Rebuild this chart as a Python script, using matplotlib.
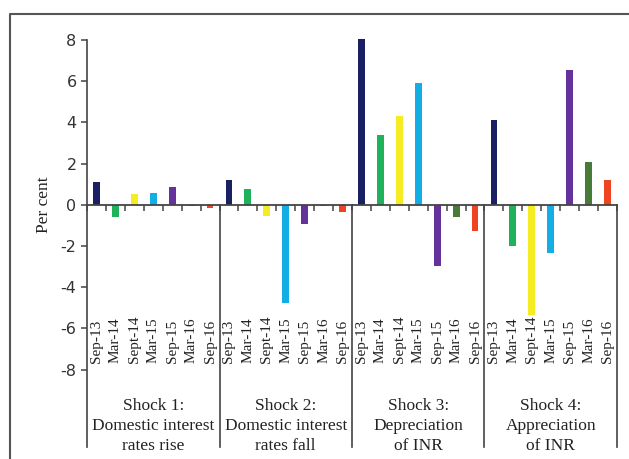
import matplotlib
matplotlib.use('Agg')
import matplotlib.pyplot as plt
from matplotlib.lines import Line2D

periods = ['Sep-13', 'Mar-14', 'Sept-14', 'Mar-15', 'Sep-15', 'Mar-16', 'Sep-16']
shocks = ['Shock 1:\nDomestic interest\nrates rise',
          'Shock 2:\nDomestic interest\nrates fall',
          'Shock 3:\nDepreciation\nof INR',
          'Shock 4:\nAppreciation\nof INR']
shock1 = [1.1, -0.6, 0.5, 0.55, 0.85, -0.05, -0.15]
shock2 = [1.2, 0.75, -0.55, -4.75, -0.95, -0.05, -0.35]
shock3 = [8.05, 3.4, 4.3, 5.9, -2.95, -0.6, -1.25]
shock4 = [4.1, -2.0, -5.35, -2.35, 6.55, 2.1, 1.2]
period_colors = ['#1b1f63', '#1fb25a', '#f5ec23', '#13aee6', '#65319a', '#487b37', '#ef4423']
yticks = [-8, -6, -4, -2, 0, 2, 4, 6, 8]

serif = 'Liberation Serif'
axis_col = '#444444'
text_col = '#222222'

fig = plt.figure(figsize=(6.29, 4.59), dpi=100)
ax = fig.add_axes([87/629, 1-447/459, 530/629, 407/459])

ymin = -11.76
n = len(periods)
for g, vals in enumerate([shock1, shock2, shock3, shock4]):
    xs = [g*n + i + 0.5 for i in range(n)]
    ax.bar(xs, vals, width=0.36, color=period_colors, clip_on=False, zorder=2)
    for x, lab in zip(xs, periods):
        ax.text(x, -7.67, lab, rotation=90, ha='center', va='bottom',
                fontsize=11, family=serif, color=text_col)
    ax.text(g*n + n/2, -9.4, shocks[g], ha='center', va='top',
            fontsize=12.5, family=serif, color=text_col, linespacing=1.3)
    # group separator below the zero line
    ax.plot([(g+1)*n, (g+1)*n], [0, ymin], color=axis_col, lw=1.2, clip_on=False, zorder=3)

ax.set_xlim(0, 4*n)
ax.set_ylim(ymin, 8)
ax.set_yticks(yticks)
ax.set_yticklabels([str(t) for t in yticks], fontsize=11.5, color='#333333')
ax.set_xticks(range(0, 4*n + 1))
ax.set_xticklabels([])
ax.tick_params(axis='x', direction='out', length=4, width=1.1, color=axis_col)
ax.tick_params(axis='y', direction='out', length=4.5, width=1.1, color=axis_col, pad=3)

for s in ['top', 'right']:
    ax.spines[s].set_visible(False)
ax.spines['bottom'].set_position(('data', 0))
ax.spines['bottom'].set_color(axis_col)
ax.spines['bottom'].set_linewidth(1.3)
ax.spines['left'].set_color(axis_col)
ax.spines['left'].set_linewidth(1.2)

ax.set_ylabel('Per cent', family=serif, fontsize=12.5, color=text_col)
ax.yaxis.set_label_coords(-35/530, 1-(205-40)/407)

# frame around the figure (only left and top edges are visible)
bx, by = 10/629, 1-14/459
fig.add_artist(Line2D([bx, bx, 1.01], [-0.01, by, by], color='#555555', lw=1.5,
                      transform=fig.transFigure))

fig.savefig('out.png', dpi=100)
